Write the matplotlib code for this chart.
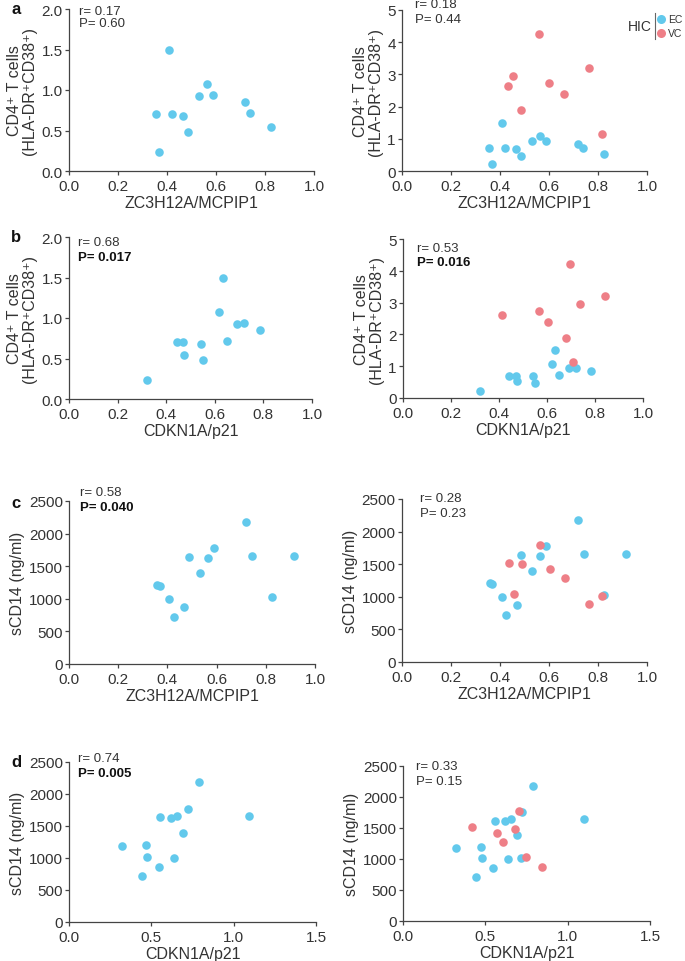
import numpy as np
import matplotlib
matplotlib.use("Agg")
import matplotlib.pyplot as plt
from matplotlib.lines import Line2D
from matplotlib.ticker import FormatStrFormatter

plt.rcParams['font.family'] = ['Liberation Sans', 'DejaVu Sans']

# =====================================
# DATA
# =====================================

# row a: ZC3H12A/MCPIP1 vs CD4+ HLA-DR+CD38+
ec_zc_a = [0.407, 0.563, 0.530, 0.586, 0.717, 0.738, 0.823, 0.357, 0.422, 0.466, 0.486, 0.366]
ec_cd4_a = [1.50, 1.08, 0.93, 0.94, 0.85, 0.71, 0.54, 0.70, 0.70, 0.68, 0.48, 0.23]
vc_zc_a = [0.561, 0.454, 0.434, 0.601, 0.763, 0.663, 0.487, 0.816]
vc_cd4_a = [4.24, 2.95, 2.63, 2.73, 3.21, 2.40, 1.89, 1.15]

# row b: CDKN1A/p21 vs CD4+ HLA-DR+CD38+
ec_p21_b = [0.635, 0.619, 0.690, 0.722, 0.784, 0.652, 0.443, 0.469, 0.542, 0.475, 0.552, 0.319]
ec_cd4_b = [1.50, 1.08, 0.93, 0.94, 0.85, 0.71, 0.70, 0.70, 0.68, 0.54, 0.48, 0.23]
vc_p21_b = [0.696, 0.841, 0.737, 0.414, 0.565, 0.603, 0.678, 0.710]
vc_cd4_b = [4.22, 3.21, 2.96, 2.62, 2.73, 2.40, 1.90, 1.14]

# row c: ZC3H12A/MCPIP1 vs sCD14
ec_zc_c = [0.719, 0.487, 0.564, 0.589, 0.742, 0.913, 0.532, 0.358, 0.369, 0.408, 0.469, 0.425, 0.826]
ec_scd14_c = [2185, 1640, 1620, 1772, 1662, 1662, 1391, 1208, 1195, 1002, 870, 716, 1027]
vc_zc_c = [0.563, 0.437, 0.490, 0.603, 0.664, 0.456, 0.765, 0.818]
vc_scd14_c = [1792, 1526, 1505, 1423, 1290, 1044, 885, 1013]

# row d: CDKN1A/p21 vs sCD14
ec_p21_d = [0.787, 0.722, 0.622, 0.655, 0.553, 1.095, 0.691, 0.320, 0.468, 0.476, 0.635, 0.545, 0.444]
ec_scd14_d = [2184, 1769, 1618, 1660, 1634, 1660, 1390, 1188, 1203, 1022, 996, 866, 716]
ec_p21_d2 = [0.788, 0.724, 0.621, 0.655, 0.556, 1.098, 0.695, 0.323, 0.473, 0.479, 0.639, 0.546, 0.445, 0.716]
ec_scd14_d2 = [2172, 1758, 1608, 1645, 1618, 1650, 1382, 1183, 1199, 1016, 995, 860, 710, 1016]
vc_p21_d = [0.703, 0.420, 0.570, 0.683, 0.608, 0.744, 0.845]
vc_scd14_d = [1774, 1516, 1415, 1490, 1282, 1040, 876]

stats = [("r= 0.17", "P= 0.60"), ("r= 0.18", "P= 0.44"),
         ("r= 0.68", "P= 0.017"), ("r= 0.53", "P= 0.016"),
         ("r= 0.58", "P= 0.040"), ("r= 0.28", "P= 0.23"),
         ("r= 0.74", "P= 0.005"), ("r= 0.33", "P= 0.15")]
p_bold = [False, False, True, True, True, False, True, False]

cd4_label = "CD4\u207a T cells\n(HLA-DR\u207aCD38\u207a)"
scd14_label = "sCD14 (ng/ml)"

EC_COL = "#62C9EC"
VC_COL = "#EE7F87"
AX_COL = "#444444"
TXT_COL = "#333333"

# =====================================
# LAYOUT (pixels of 685x962 figure)
# =====================================

W, H = 685, 962
fig = plt.figure(figsize=(W / 100, H / 100), dpi=100)

# (left, top, right, bottom) in pixels
boxes = [(69, 10, 314, 172), (402, 11, 647, 172),
         (69, 238, 312, 400), (403, 240, 643, 399),
         (69, 502, 315, 665), (402, 500, 647, 663),
         (69, 763, 316, 923), (403, 767, 650, 922)]

# text positions (x frac, r y frac, P y frac)
txt_pos = [(0.04, 0.988, 0.914), (0.053, 1.037, 0.944),
           (0.037, 0.969, 0.877), (0.057, 0.943, 0.855),
           (0.045, 1.055, 0.963), (0.075, 1.006, 0.914),
           (0.037, 1.025, 0.93), (0.053, 1.0, 0.90)]

axes = []
for (l, t, r, b) in boxes:
    ax = fig.add_axes([l / W, 1 - b / H, (r - l) / W, (b - t) / H])
    axes.append(ax)

# =====================================
# SCATTERS
# =====================================

ms = 38
axes[0].scatter(ec_zc_a, ec_cd4_a, s=ms, color=EC_COL, lw=0)
axes[1].scatter(ec_zc_a, ec_cd4_a, s=ms, color=EC_COL, lw=0)
axes[1].scatter(vc_zc_a, vc_cd4_a, s=ms, color=VC_COL, lw=0)
axes[2].scatter(ec_p21_b, ec_cd4_b, s=ms, color=EC_COL, lw=0)
axes[3].scatter(ec_p21_b, ec_cd4_b, s=ms, color=EC_COL, lw=0)
axes[3].scatter(vc_p21_b, vc_cd4_b, s=ms, color=VC_COL, lw=0)
axes[4].scatter(ec_zc_c, ec_scd14_c, s=ms, color=EC_COL, lw=0)
axes[5].scatter(ec_zc_c, ec_scd14_c, s=ms, color=EC_COL, lw=0)
axes[5].scatter(vc_zc_c, vc_scd14_c, s=ms, color=VC_COL, lw=0)
axes[6].scatter(ec_p21_d, ec_scd14_d, s=ms, color=EC_COL, lw=0)
axes[7].scatter(ec_p21_d2, ec_scd14_d2, s=ms, color=EC_COL, lw=0)
axes[7].scatter(vc_p21_d, vc_scd14_d, s=ms, color=VC_COL, lw=0)

# =====================================
# AXES STYLE
# =====================================

for i, ax in enumerate(axes):
    row = i // 2
    right = i % 2 == 1
    for s in ["top", "right"]:
        ax.spines[s].set_visible(False)
    for s in ["left", "bottom"]:
        ax.spines[s].set_color(AX_COL)
        ax.spines[s].set_linewidth(0.9)
    ax.tick_params(length=3, width=0.9, color=AX_COL, labelcolor=TXT_COL,
                   labelsize=11)
    ax.tick_params(axis="x", pad=2.5)
    ax.tick_params(axis="y", pad=1.5)

    if row < 3:
        ax.set_xlim(0, 1.0)
        ax.set_xticks([0, 0.2, 0.4, 0.6, 0.8, 1.0])
    else:
        ax.set_xlim(0, 1.5)
        ax.set_xticks([0, 0.5, 1.0, 1.5])
    ax.xaxis.set_major_formatter(FormatStrFormatter('%.1f'))

    if row < 2:
        if right:
            ax.set_ylim(0, 5)
            ax.set_yticks([0, 1, 2, 3, 4, 5])
        else:
            ax.set_ylim(0, 2.0)
            ax.set_yticks([0, 0.5, 1.0, 1.5, 2.0])
            ax.yaxis.set_major_formatter(FormatStrFormatter('%.1f'))
        ax.set_ylabel(cd4_label, fontsize=11.5, color=TXT_COL, labelpad=3,
                      linespacing=1.0)
    else:
        ax.set_ylim(0, 2500)
        ax.set_yticks([0, 500, 1000, 1500, 2000, 2500])
        ax.set_ylabel(scd14_label, fontsize=11.5, color=TXT_COL, labelpad=3)

    xl = "ZC3H12A/MCPIP1" if row in (0, 2) else "CDKN1A/p21"
    ax.set_xlabel(xl, fontsize=11.5, color=TXT_COL, labelpad=2)

    tx, ry, py = txt_pos[i]
    rtxt, ptxt = stats[i]
    ax.text(tx, ry, rtxt, transform=ax.transAxes, fontsize=9.5,
            color=TXT_COL, ha="left", va="center")
    ax.text(tx, py, ptxt, transform=ax.transAxes, fontsize=9.5,
            color="#111111" if p_bold[i] else TXT_COL,
            fontweight="bold" if p_bold[i] else "normal",
            ha="left", va="center")

# panel letters
for letter, ypx in zip("abcd", [10, 238, 504, 763]):
    fig.text(16 / W, 1 - ypx / H, letter, fontsize=12, fontweight="bold",
             ha="center", va="center", color="#111111")

# legend (HIC | EC / VC)
fig.text(652 / W, 1 - 27 / H, "HIC", fontsize=10, color=TXT_COL,
         ha="right", va="center")
fig.add_artist(Line2D([655 / W, 655 / W], [1 - 14 / H, 1 - 40 / H],
                      color="#666666", lw=0.8, transform=fig.transFigure))
fig.add_artist(Line2D([661 / W], [1 - 20 / H], marker="o", ms=6.5, lw=0,
                      color=EC_COL, mew=0, transform=fig.transFigure))
fig.add_artist(Line2D([661 / W], [1 - 34 / H], marker="o", ms=6.5, lw=0,
                      color=VC_COL, mew=0, transform=fig.transFigure))
fig.text(668 / W, 1 - 20 / H, "EC", fontsize=7.5, color=TXT_COL,
         ha="left", va="center")
fig.text(668 / W, 1 - 34 / H, "VC", fontsize=7.5, color=TXT_COL,
         ha="left", va="center")

fig.savefig("out.png", dpi=100)
